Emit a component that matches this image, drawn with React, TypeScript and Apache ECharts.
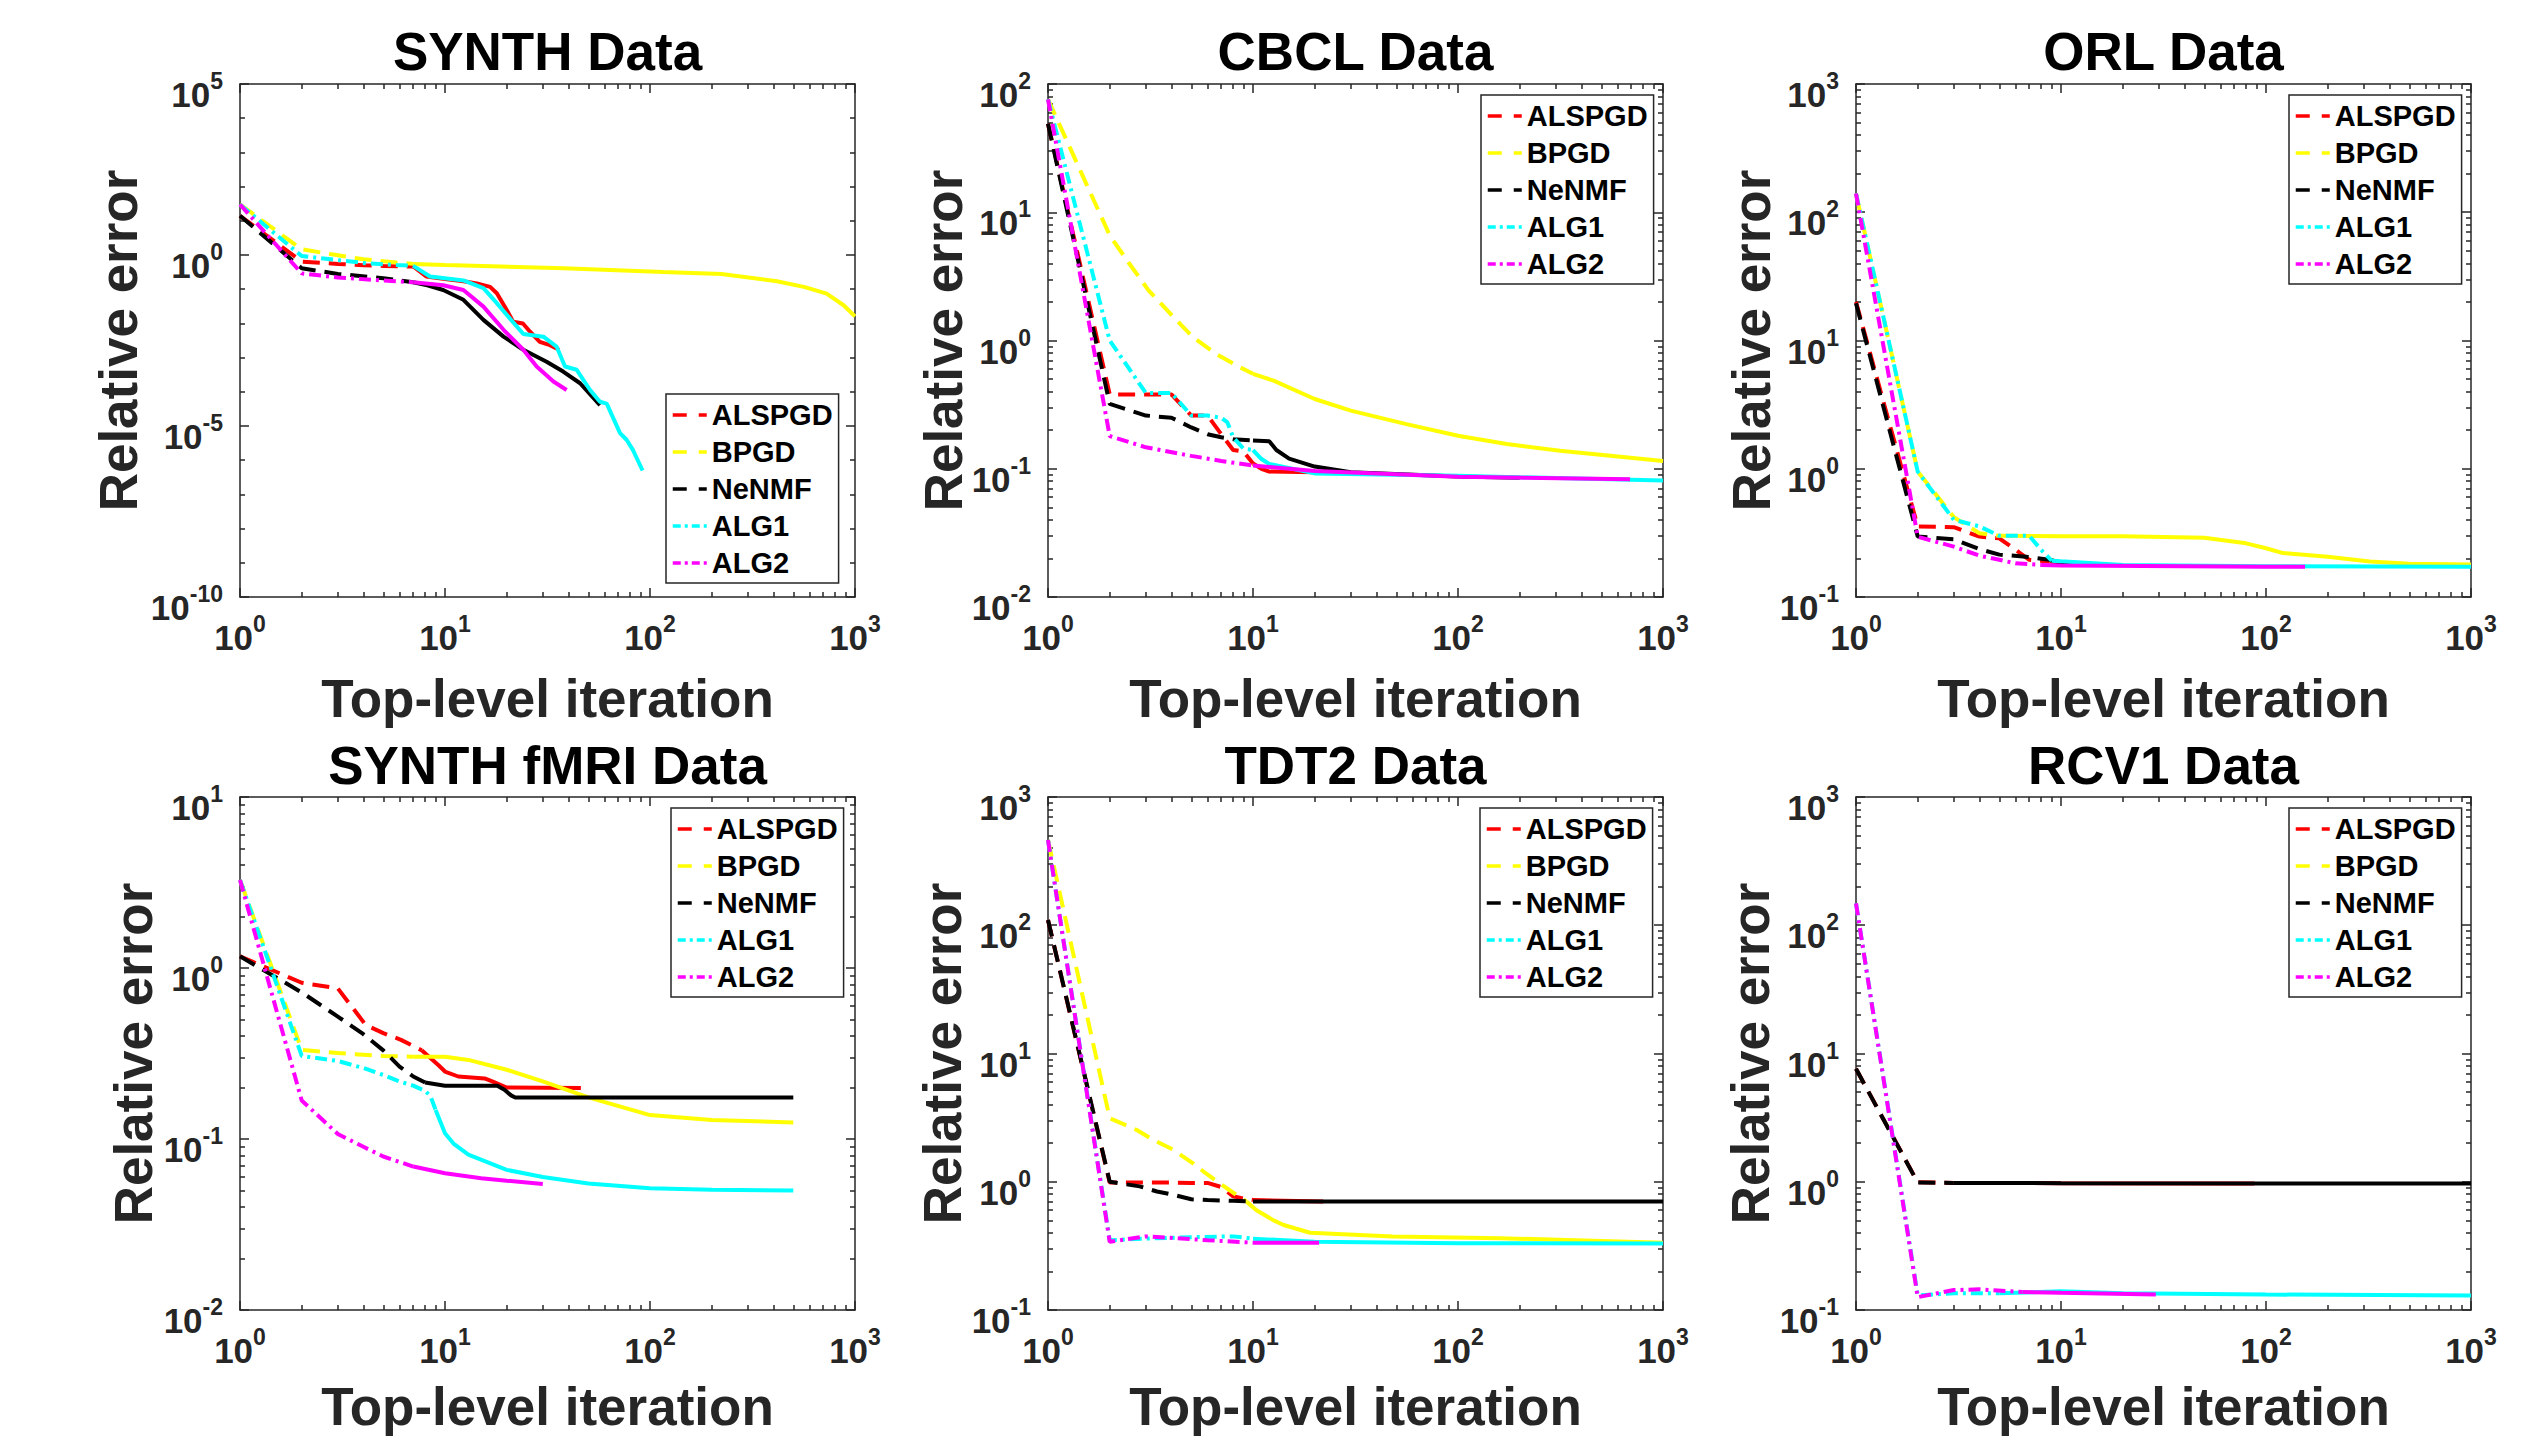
import React, { useEffect, useRef } from "react";
import * as echarts from "echarts";

// ---------- legend / algorithms ----------
const ALGORITHMS = ["ALSPGD", "BPGD", "NeNMF", "ALG1", "ALG2"];

// ---------- data: [iteration, relative error] ----------
// SYNTH
const synthALSPGD = [[1, 14], [2, 0.64], [3, 0.55], [4, 0.5], [5, 0.48], [6, 0.47], [7, 0.46], [8.1, 0.235], [10, 0.2], [12.3, 0.17], [14.3, 0.148], [16.6, 0.117], [17.9, 0.076], [20, 0.0245], [21.5, 0.0112], [24, 0.0099], [26, 0.0057], [29, 0.0029], [32.5, 0.0023], [36, 0.0017]];
const synthBPGD = [[1, 30], [2, 1.47], [2.75, 1.07], [4, 0.75], [5.8, 0.6], [7, 0.55], [10, 0.51], [38, 0.41], [116, 0.32], [223, 0.28], [416, 0.17], [570, 0.115], [727, 0.074], [880, 0.034], [1000, 0.016]];
const synthNeNMF = [[1, 14], [2, 0.41], [3, 0.28], [5, 0.21], [7, 0.16], [8.2, 0.13], [9.8, 0.095], [12.3, 0.049], [15.4, 0.0127], [19.3, 0.0041], [24.1, 0.0017], [31.3, 0.00076], [37.7, 0.00039], [45.6, 0.000178], [57, 0.000041]];
const synthALG1 = [[1, 30], [2, 0.93], [3, 0.71], [4.15, 0.57], [5.8, 0.51], [7, 0.48], [8.45, 0.235], [12.3, 0.18], [15.4, 0.107], [17.9, 0.039], [20.7, 0.014], [24.1, 0.0049], [30.2, 0.0041], [35, 0.0021], [38.5, 0.00055], [43.9, 0.00044], [51, 0.000113], [57, 0.000051], [61.5, 0.000045], [71.4, 0.0000062], [77, 0.0000039], [82.5, 0.000002], [92, 0.0000005]];
const synthALG2 = [[1, 30], [2, 0.29], [3, 0.22], [5, 0.18], [7, 0.16], [9.8, 0.13], [12.3, 0.095], [15.4, 0.031], [19.3, 0.0065], [24.1, 0.0017], [28, 0.00055], [33.8, 0.0002], [39.2, 0.000113]];

// CBCL
const cbclALSPGD = [[1, 49], [2, 0.38], [3, 0.38], [4, 0.38], [5, 0.26], [6, 0.26], [7, 0.186], [8, 0.14], [9, 0.136], [10, 0.11], [11, 0.1], [12, 0.095], [20, 0.094], [30, 0.093]];
const cbclBPGD = [[1, 76], [2, 6.6], [2.5, 3.95], [3.1, 2.45], [4.1, 1.52], [5.1, 1.06], [6.6, 0.785], [8.6, 0.62], [10, 0.55], [12.6, 0.486], [20, 0.35], [30, 0.284], [56, 0.223], [100, 0.181], [173, 0.156], [315, 0.138], [1000, 0.115]];
const cbclNeNMF = [[1, 49], [2, 0.32], [3, 0.26], [4, 0.25], [5, 0.21], [6, 0.186], [7, 0.176], [8, 0.17], [10, 0.166], [12, 0.164], [13, 0.14], [15, 0.12], [20, 0.104], [30, 0.094], [100, 0.087], [200, 0.085]];
const cbclALG1 = [[1, 76], [2, 1.0], [3, 0.39], [4, 0.39], [5, 0.26], [6, 0.26], [7, 0.25], [7.5, 0.23], [8, 0.176], [9, 0.143], [10, 0.14], [11, 0.119], [12, 0.109], [20, 0.092], [100, 0.088], [1000, 0.081]];
const cbclALG2 = [[1, 76], [2, 0.18], [3, 0.147], [5, 0.126], [7, 0.115], [10, 0.106], [20, 0.096], [100, 0.0867], [690, 0.083]];

// ORL
const orlALSPGD = [[1, 20], [2, 0.355], [3, 0.35], [4, 0.296], [5, 0.287], [6, 0.233], [7, 0.195], [8.8, 0.189], [10, 0.185], [12, 0.18]];
const orlBPGD = [[1, 140], [2, 0.95], [3, 0.42], [4, 0.314], [5, 0.3], [10, 0.297], [20, 0.297], [50, 0.29], [80, 0.262], [100, 0.24], [121, 0.22], [200, 0.206], [321, 0.189], [500, 0.182], [1000, 0.179]];
const orlNeNMF = [[1, 19.5], [2, 0.296], [3, 0.282], [4, 0.236], [5, 0.214], [7, 0.205], [8.8, 0.195], [10, 0.185], [12, 0.18]];
const orlALG1 = [[1, 140], [2, 0.95], [3, 0.4], [4, 0.355], [5, 0.3], [6, 0.3], [7, 0.3], [8, 0.233], [9, 0.192], [10, 0.19], [20, 0.178], [100, 0.174], [1000, 0.172]];
const orlALG2 = [[1, 140], [2, 0.295], [3, 0.247], [4, 0.21], [5, 0.195], [6, 0.183], [8, 0.178], [10, 0.176], [100, 0.172], [155, 0.172]];

// SYNTH fMRI
const fmriALSPGD = [[1, 1.17], [2, 0.82], [3, 0.76], [4.1, 0.465], [5, 0.416], [6.1, 0.38], [7.7, 0.33], [9.3, 0.27], [10, 0.248], [11.6, 0.232], [15.6, 0.226], [17, 0.217], [20, 0.2], [46, 0.199]];
const fmriBPGD = [[1, 3.27], [2, 0.332], [3, 0.318], [5, 0.306], [7, 0.303], [10, 0.303], [13, 0.29], [20, 0.254], [30, 0.217], [50, 0.175], [100, 0.138], [200, 0.129], [500, 0.125]];
const fmriNeNMF = [[1, 1.17], [2, 0.72], [3, 0.52], [4, 0.41], [5, 0.33], [6, 0.265], [7, 0.232], [8, 0.214], [10, 0.205], [18, 0.205], [19.5, 0.194], [21, 0.18], [22, 0.175], [100, 0.175], [500, 0.175]];
const fmriALG1 = [[1, 3.27], [2, 0.306], [3, 0.286], [4, 0.26], [5, 0.237], [6, 0.217], [7, 0.205], [8, 0.191], [8.5, 0.178], [9, 0.148], [10, 0.108], [11, 0.094], [13, 0.081], [20, 0.066], [30, 0.06], [50, 0.055], [100, 0.0515], [200, 0.0505], [500, 0.0499]];
const fmriALG2 = [[1, 3.27], [2, 0.168], [3, 0.107], [4, 0.09], [5, 0.079], [7, 0.069], [10, 0.063], [15, 0.059], [20, 0.057], [30, 0.0545]];

// TDT2
const tdt2ALSPGD = [[1, 110], [2, 0.985], [3, 0.985], [4, 0.985], [5, 0.98], [6, 0.98], [7, 0.91], [8, 0.77], [9, 0.74], [10, 0.72], [22, 0.7]];
const tdt2BPGD = [[1, 462], [2, 3.13], [2.7, 2.54], [3.26, 2.12], [4.1, 1.77], [5.1, 1.39], [5.9, 1.16], [6.9, 0.97], [8.3, 0.79], [9.3, 0.7], [10.4, 0.6], [12.6, 0.5], [14.1, 0.46], [19, 0.4], [48, 0.375], [160, 0.363], [1000, 0.335]];
const tdt2NeNMF = [[1, 110], [2, 1.0], [2.8, 0.92], [3.4, 0.84], [4.1, 0.79], [5, 0.73], [6, 0.72], [8, 0.71], [10, 0.7], [1000, 0.7]];
const tdt2ALG1 = [[1, 462], [2, 0.35], [3, 0.36], [5, 0.37], [8, 0.375], [10, 0.36], [20, 0.34], [100, 0.332], [1000, 0.33]];
const tdt2ALG2 = [[1, 462], [2, 0.34], [3, 0.375], [6, 0.35], [10, 0.335], [21, 0.335]];

// RCV1
const rcv1ALSPGD = [[1, 7.6], [2, 0.99], [3, 0.98], [10, 0.975], [88, 0.97]];
const rcv1BPGD: number[][] = [];
const rcv1NeNMF = [[1, 7.6], [2, 0.985], [3, 0.98], [10, 0.975], [100, 0.97], [1000, 0.968]];
const rcv1ALG1 = [[1, 148], [2, 0.13], [3, 0.135], [5, 0.135], [10, 0.14], [20, 0.135], [100, 0.132], [1000, 0.13]];
const rcv1ALG2 = [[1, 148], [2, 0.126], [3, 0.143], [4, 0.145], [6.5, 0.138], [10, 0.136], [29, 0.132]];

// ---------- axis ranges ----------
const X_RANGE = [1, 1000];
const Y_RANGES = [[1e-10, 1e5], [1e-2, 1e2], [1e-1, 1e3], [1e-2, 1e1], [1e-1, 1e3], [1e-1, 1e3]];
const Y_DECADE_STEP = [5, 1, 1, 1, 1, 1];
const TITLES = ["SYNTH Data", "CBCL Data", "ORL Data", "SYNTH fMRI Data", "TDT2 Data", "RCV1 Data"];
const X_LABEL = "Top-level iteration";
const Y_LABEL = "Relative error";
const PANEL_DATA = [
  [synthALSPGD, synthBPGD, synthNeNMF, synthALG1, synthALG2],
  [cbclALSPGD, cbclBPGD, cbclNeNMF, cbclALG1, cbclALG2],
  [orlALSPGD, orlBPGD, orlNeNMF, orlALG1, orlALG2],
  [fmriALSPGD, fmriBPGD, fmriNeNMF, fmriALG1, fmriALG2],
  [tdt2ALSPGD, tdt2BPGD, tdt2NeNMF, tdt2ALG1, tdt2ALG2],
  [rcv1ALSPGD, rcv1BPGD, rcv1NeNMF, rcv1ALG1, rcv1ALG2],
];

// ---------- layout & style ----------
const W = 2545;
const H = 1440;
const COL_LEFT = [240, 1048, 1856];
const ROW_TOP = [84, 797];
const PLOT_W = 615;
const PLOT_H = 513;
const TITLE_OFFSET = [33, 32];
const XLABEL_OFFSET = [101, 96];
const LEGEND_POS = [[666, 394], [1481, 95], [2289, 95], [671, 808], [1480, 808], [2289, 808]];
const YLABEL_X = [118, 943, 1751, 133, 942, 1750];
const DASH_UNTIL = [7, 10, 9, 9, 10, 9];
const FONT = '"Liberation Sans", Arial, Helvetica, sans-serif';
const AXIS_COLOR = "#262626";
const LINE_COLORS = ["#ff0000", "#ffff00", "#000000", "#00ffff", "#ff00ff"];
const DASHED = [17, 9];
const DASH_DOT = [12, 5, 3, 5];
const LINE_DASH = [DASHED, DASHED, DASHED, DASH_DOT, DASH_DOT];
const LEGEND_DASHED = [14, 12];
const LEGEND_DASH_DOT = [8, 4, 3, 4];
const LEGEND_DASH = [LEGEND_DASHED, LEGEND_DASHED, LEGEND_DASHED, LEGEND_DASH_DOT, LEGEND_DASH_DOT];
const LINE_WIDTH = 4;

function minorValues(lo: number, hi: number, step: number) {
  const a = Math.round(Math.log10(lo));
  const b = Math.round(Math.log10(hi));
  const out: number[] = [];
  if (step === 1) {
    for (let e = a; e < b; e++) for (let d = 2; d <= 9; d++) out.push(d * Math.pow(10, e));
  } else {
    for (let e = a; e <= b; e++) if (e % step !== 0) out.push(Math.pow(10, e));
  }
  return out;
}

const tickRich = {
  b: { fontSize: 35, fontWeight: "bold", fontFamily: FONT, color: AXIS_COLOR, lineHeight: 50, verticalAlign: "middle" },
  s: { fontSize: 23, fontWeight: "bold", fontFamily: FONT, color: AXIS_COLOR, lineHeight: 23, verticalAlign: "top" },
};
const powLabel = (v: number) => `{b|10}{s|${Math.round(Math.log10(v))}}`;

function makeAxis(g: number, pos: string, major: boolean, range: number[], step: number, minors: number[]) {
  const lineStyle = { color: AXIS_COLOR, width: 1.5 };
  const labelled = major && (pos === "bottom" || pos === "left");
  const isY = pos === "left" || pos === "right";
  const ax: any = {
    type: "log",
    logBase: 10,
    gridIndex: g,
    position: pos,
    min: range[0],
    max: range[1],
    silent: true,
    splitLine: { show: false },
    minorTick: { show: false },
    minorSplitLine: { show: false },
    axisLine: { show: major, onZero: false, lineStyle },
    axisTick: major
      ? { show: true, inside: true, length: 9, lineStyle }
      : { show: true, inside: true, length: 5, lineStyle, customValues: minors },
    axisLabel: labelled
      ? {
          show: true,
          formatter: powLabel,
          rich: tickRich,
          margin: isY ? 17 : 15,
          padding: isY ? [21, 0, 0, 0] : 0,
          showMinLabel: true,
          showMaxLabel: true,
          hideOverlap: false,
        }
      : { show: false },
  };
  if (major) ax.interval = step;
  return ax;
}

function splitSeries(points: number[][], limit: number) {
  let k = 0;
  for (let i = 0; i < points.length; i++) if (points[i][0] <= limit) k = i;
  return [points.slice(0, k + 1), points.slice(k)];
}

function buildOption() {
  const grid: any[] = [];
  const xAxis: any[] = [];
  const yAxis: any[] = [];
  const series: any[] = [];
  const legend: any[] = [];
  const elements: any[] = [];
  const xMinors = minorValues(X_RANGE[0], X_RANGE[1], 1);

  TITLES.forEach((title, g) => {
    const row = Math.floor(g / 3);
    const col = g % 3;
    const left = COL_LEFT[col];
    const top = ROW_TOP[row];
    grid.push({ left, top, width: PLOT_W, height: PLOT_H, containLabel: false, outerBoundsMode: "none" });

    const yr = Y_RANGES[g];
    const ys = Y_DECADE_STEP[g];
    const yMinors = minorValues(yr[0], yr[1], ys);
    xAxis.push(makeAxis(g, "bottom", true, X_RANGE, 1, xMinors));
    xAxis.push(makeAxis(g, "bottom", false, X_RANGE, 1, xMinors));
    xAxis.push(makeAxis(g, "top", true, X_RANGE, 1, xMinors));
    xAxis.push(makeAxis(g, "top", false, X_RANGE, 1, xMinors));
    yAxis.push(makeAxis(g, "left", true, yr, ys, yMinors));
    yAxis.push(makeAxis(g, "left", false, yr, ys, yMinors));
    yAxis.push(makeAxis(g, "right", true, yr, ys, yMinors));
    yAxis.push(makeAxis(g, "right", false, yr, ys, yMinors));

    PANEL_DATA[g].forEach((pts, a) => {
      if (!pts.length) return;
      const [dashedPart, solidPart] = splitSeries(pts, DASH_UNTIL[g]);
      const base = {
        type: "line",
        name: ALGORITHMS[a],
        xAxisIndex: 4 * g,
        yAxisIndex: 4 * g,
        symbol: "none",
        showSymbol: false,
        silent: true,
        clip: true,
        animation: false,
        itemStyle: { color: LINE_COLORS[a] },
      };
      series.push({ ...base, data: dashedPart, lineStyle: { color: LINE_COLORS[a], width: LINE_WIDTH, type: LINE_DASH[a], cap: "butt" } });
      if (solidPart.length > 1) {
        series.push({ ...base, data: solidPart, lineStyle: { color: LINE_COLORS[a], width: LINE_WIDTH, type: "solid" } });
      }
    });

    legend.push({
      data: ALGORITHMS.map((name, a) => ({
        name,
        itemStyle: { color: "rgba(0,0,0,0)", borderWidth: 0, opacity: 0 },
        lineStyle: { color: LINE_COLORS[a], width: 3.5, type: LEGEND_DASH[a], opacity: 1 },
      })),
      orient: "vertical",
      left: LEGEND_POS[g][0],
      top: LEGEND_POS[g][1],
      padding: [6, 6, 5, 5],
      itemGap: 7,
      itemWidth: 34,
      itemHeight: 14,
      selectedMode: false,
      backgroundColor: "#ffffff",
      borderColor: AXIS_COLOR,
      borderWidth: 1.5,
      borderRadius: 0,
      itemStyle: { color: "rgba(0,0,0,0)", borderWidth: 0, opacity: 0 },
      lineStyle: { width: 3.5 },
      textStyle: { fontSize: 29, fontWeight: "bold", fontFamily: FONT, color: "#000", lineHeight: 30 },
    });

    const textStyle = (txt: string, color: string) => ({
      text: txt,
      fill: color,
      fontSize: 53,
      fontWeight: "bold",
      fontFamily: FONT,
      align: "center",
      verticalAlign: "middle",
      textAlign: "center",
      textVerticalAlign: "middle",
    });
    elements.push({ type: "text", x: left + PLOT_W / 2, y: top - TITLE_OFFSET[row], silent: true, style: textStyle(title, "#000") });
    elements.push({ type: "text", x: left + PLOT_W / 2, y: top + PLOT_H + XLABEL_OFFSET[row], silent: true, style: textStyle(X_LABEL, AXIS_COLOR) });
    elements.push({ type: "text", x: YLABEL_X[g], y: top + PLOT_H / 2, rotation: Math.PI / 2, silent: true, style: textStyle(Y_LABEL, AXIS_COLOR) });
  });

  return {
    animation: false,
    backgroundColor: "#ffffff",
    grid,
    xAxis,
    yAxis,
    legend,
    series,
    graphic: { elements },
  };
}

export default function App() {
  const ref = useRef<HTMLDivElement>(null);
  useEffect(() => {
    if (!ref.current) return;
    const chart = echarts.init(ref.current, null, { renderer: "svg", width: W, height: H });
    chart.setOption(buildOption() as any);
    return () => chart.dispose();
  }, []);
  return <div ref={ref} style={{ position: "fixed", left: 0, top: 0, width: W, height: H, background: "#fff" }} />;
}
